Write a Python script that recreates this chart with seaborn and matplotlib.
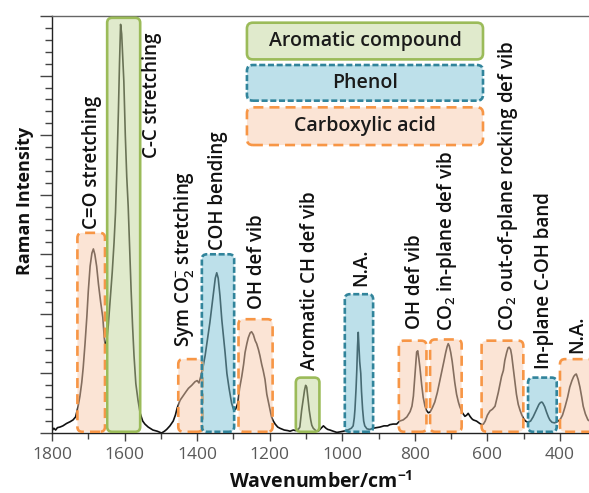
import matplotlib
matplotlib.use("Agg")
import matplotlib.pyplot as plt
import numpy as np
import pandas as pd
import seaborn as sns
from matplotlib.patches import FancyBboxPatch
from matplotlib.colors import to_rgba
from matplotlib.ticker import MultipleLocator

# Raman spectrum (wavenumber in cm-1, intensity in arbitrary units)
wavenumber = [
    1800, 1795, 1790, 1785, 1778, 1770, 1760, 1750, 1742, 1735, 1728, 1723, 1718,
    1714, 1709, 1704, 1700, 1695, 1690, 1686, 1682, 1677, 1672, 1666, 1660, 1656,
    1653, 1650, 1645, 1640, 1634, 1629, 1625, 1621, 1617, 1614, 1611, 1608, 1605,
    1602, 1598, 1594, 1590, 1586, 1582, 1578, 1574, 1569, 1563, 1557, 1550, 1544,
    1535, 1522, 1510, 1498, 1490, 1484, 1475, 1466, 1460, 1455, 1447, 1438, 1430,
    1424, 1415, 1406, 1400, 1395, 1390, 1384, 1378, 1372, 1365, 1360, 1356, 1350,
    1346, 1342, 1337, 1332, 1328, 1323, 1318, 1312, 1305, 1299, 1294, 1288, 1283,
    1277, 1272, 1268, 1263, 1259, 1254, 1250, 1245, 1240, 1236, 1231, 1227, 1222,
    1218, 1213, 1208, 1201, 1195, 1190, 1185, 1178, 1172, 1160, 1150, 1144, 1135,
    1128, 1120, 1117, 1112, 1108, 1104, 1101, 1098, 1096, 1093, 1091, 1087, 1084,
    1080, 1073, 1066, 1060, 1052, 1045, 1040, 1034, 1025, 1015, 1005, 997, 985,
    975, 970, 967, 965, 962, 960, 958, 956, 954, 952, 949, 947, 944, 941, 938,
    932, 924, 915, 905, 896, 885, 875, 869, 860, 850, 842, 832, 822, 813, 808,
    804, 800, 797, 795, 792, 789, 786, 784, 781, 777, 772, 768, 763, 758, 752,
    745, 738, 731, 725, 720, 715, 711, 708, 705, 701, 697, 693, 690, 685, 680,
    676, 670, 662, 657, 653, 648, 643, 639, 630, 621, 615, 611, 606, 600, 593,
    586, 579, 575, 570, 566, 561, 556, 552, 547, 543, 540, 536, 533, 529, 525,
    520, 515, 510, 505, 500, 495, 488, 481, 474, 468, 463, 458, 454, 450, 447,
    442, 437, 432, 428, 422, 415, 408, 400, 393, 386, 379, 373, 367, 362, 358,
    355, 350, 345, 340, 336, 330, 323, 318,
]
intensity = [
    0.04, 0.08, 0.05, 0.09, 0.10, 0.12, 0.16, 0.19, 0.22, 0.27, 0.45, 0.62, 0.85,
    1.10, 1.50, 1.95, 2.38, 2.80, 3.02, 3.09, 3.00, 2.80, 2.50, 2.20, 1.94, 1.60,
    1.45, 1.50, 1.80, 2.20, 2.70, 3.20, 3.70, 4.50, 5.40, 6.20, 6.86, 6.70, 6.30,
    5.90, 5.00, 4.30, 3.80, 3.10, 2.40, 1.80, 1.30, 0.83, 0.55, 0.33, 0.20, 0.15,
    0.10, 0.05, 0.03, 0.00, 0.03, 0.06, 0.12, 0.20, 0.30, 0.42, 0.55, 0.63, 0.70,
    0.75, 0.80, 0.86, 0.88, 0.84, 0.95, 1.10, 1.30, 1.55, 1.85, 2.10, 2.30, 2.60,
    2.69, 2.60, 2.30, 1.90, 1.65, 1.35, 1.00, 0.75, 0.50, 0.38, 0.40, 0.50, 0.75,
    0.95, 1.15, 1.35, 1.50, 1.60, 1.68, 1.70, 1.65, 1.55, 1.50, 1.40, 1.30, 1.15,
    1.05, 0.90, 0.65, 0.45, 0.27, 0.20, 0.15, 0.10, 0.08, 0.05, 0.04, 0.03, 0.05,
    0.04, 0.07, 0.10, 0.38, 0.55, 0.72, 0.80, 0.77, 0.66, 0.50, 0.38, 0.22, 0.13,
    0.08, 0.04, 0.03, 0.07, 0.12, 0.08, 0.06, 0.05, 0.03, 0.01, 0.02, 0.03, 0.05,
    0.08, 0.12, 0.25, 0.40, 0.75, 1.05, 1.45, 1.69, 1.45, 1.20, 1.00, 0.70, 0.40,
    0.20, 0.12, 0.07, 0.06, 0.08, 0.09, 0.10, 0.12, 0.12, 0.14, 0.15, 0.15, 0.20,
    0.22, 0.27, 0.36, 0.45, 0.62, 0.95, 1.20, 1.36, 1.38, 1.25, 1.10, 0.98, 0.80,
    0.60, 0.45, 0.38, 0.34, 0.35, 0.42, 0.52, 0.68, 0.88, 1.05, 1.20, 1.35, 1.45,
    1.50, 1.46, 1.35, 1.20, 1.00, 0.85, 0.65, 0.52, 0.44, 0.35, 0.28, 0.30, 0.33,
    0.28, 0.24, 0.22, 0.20, 0.16, 0.14, 0.15, 0.20, 0.30, 0.37, 0.40, 0.45, 0.55,
    0.68, 0.80, 0.95, 1.05, 1.22, 1.35, 1.43, 1.44, 1.40, 1.30, 1.10, 0.90, 0.65,
    0.48, 0.38, 0.30, 0.24, 0.20, 0.18, 0.20, 0.27, 0.35, 0.42, 0.48, 0.51, 0.52,
    0.50, 0.44, 0.35, 0.27, 0.22, 0.18, 0.17, 0.19, 0.22, 0.30, 0.44, 0.60, 0.77,
    0.88, 0.95, 0.98, 0.99, 0.90, 0.77, 0.60, 0.45, 0.32, 0.22, 0.20,
]

# Assigned bands: lower / upper wavenumber, box height, chemical group
band_lo = [1654, 1557, 1385, 1298, 1192, 1063, 915, 768, 671, 501, 409, 300]
band_hi = [1730, 1648, 1452, 1387, 1286, 1128, 993, 844, 758, 616, 488, 400]
band_top = [3.36, 6.97, 1.24, 3.0, 1.91, 0.93, 2.33, 1.55, 1.57, 1.55, 0.93, 1.24]
band_group = ["Carboxylic acid", "Aromatic compound", "Carboxylic acid", "Phenol",
              "Carboxylic acid", "Aromatic compound", "Phenol", "Carboxylic acid",
              "Carboxylic acid", "Carboxylic acid", "Phenol", "Carboxylic acid"]

# Vibrational mode annotations
mode_text = [
    "C=O stretching", "C-C stretching", r"Sym CO$_\mathregular{2}^\mathregular{-}$ stretching",
    "COH bending", "OH def vib", "Aromatic CH def vib", "N.A.", "OH def vib",
    r"CO$_\mathregular{2}$ in-plane def vib",
    r"CO$_\mathregular{2}$ out-of-plane rocking def vib",
    "In-plane C-OH band", "N.A.",
]
mode_x = [1691, 1524, 1433, 1343, 1235, 1089, 947, 800, 712, 543, 444, 353]
mode_y = [3.43, 6.72, 1.45, 3.08, 2.08, 1.05, 2.47, 1.75, 1.72, 1.72, 1.08, 1.35]
mode_va = ["bottom", "top", "bottom", "bottom", "bottom", "bottom", "bottom",
           "bottom", "bottom", "bottom", "bottom", "bottom"]

group_names = ["Aromatic compound", "Phenol", "Carboxylic acid"]
group_edge = {"Aromatic compound": "#9BBB59", "Phenol": "#31849B", "Carboxylic acid": "#F79646"}
group_face = {"Aromatic compound": "#C3D69B", "Phenol": "#7CC3D6", "Carboxylic acid": "#F8CBAD"}
group_dash = {"Aromatic compound": "solid", "Phenol": (0, (2.3, 1.0)), "Carboxylic acid": (0, (3.8, 2.3))}

sns.set_theme(style="ticks")
plt.rcParams["font.family"] = ["Open Sans", "DejaVu Sans"]
plt.rcParams["mathtext.fontset"] = "custom"
plt.rcParams["mathtext.rm"] = "Open Sans:semibold"
plt.rcParams["mathtext.bf"] = "Open Sans:bold"

fig = plt.figure(figsize=(5.89, 4.93), dpi=100)
ax = fig.add_axes([0.0883, 0.1217, 0.9117, 0.8458])

spec = pd.DataFrame({"wavenumber": wavenumber, "intensity": intensity})
sns.lineplot(data=spec, x="wavenumber", y="intensity", ax=ax, color="#111111",
             linewidth=1.2, sort=False, zorder=2)

ax.set_xlim(1800, 320)
ax.set_ylim(0, 7)

# Shaded band boxes
x_per_px = (1800 - 400) / 508.0
y_per_px = 7.0 / 417.0
for lo, hi, top, grp in zip(band_lo, band_hi, band_top, band_group):
    box = FancyBboxPatch((lo, 0.02), hi - lo, top - 0.02,
                         boxstyle=f"round,pad=0,rounding_size={5 * x_per_px}",
                         mutation_aspect=y_per_px / x_per_px,
                         facecolor=to_rgba(group_face[grp], 0.5),
                         edgecolor=group_edge[grp], linewidth=1.9,
                         linestyle=group_dash[grp], zorder=3)
    ax.add_patch(box)

for txt, x, y, va in zip(mode_text, mode_x, mode_y, mode_va):
    ax.text(x, y, txt, rotation=90, ha="center", va=va, fontsize=13.5,
            fontweight="semibold", color="#111111", zorder=5)

# Group key
key_top = [0.984, 0.8825, 0.781]
key_bottom = [0.896, 0.797, 0.6906]
key_left, key_right = 0.363, 0.8026
for name, t, b in zip(group_names, key_top, key_bottom):
    box = FancyBboxPatch((key_left, b), key_right - key_left, t - b,
                         boxstyle="round,pad=0,rounding_size=0.011",
                         mutation_aspect=537 / 417,
                         transform=ax.transAxes,
                         facecolor=to_rgba(group_face[name], 0.5),
                         edgecolor=group_edge[name], linewidth=1.9,
                         linestyle=group_dash[name], zorder=6)
    ax.add_patch(box)
    ax.text((key_left + key_right) / 2, (t + b) / 2, name, transform=ax.transAxes,
            ha="center", va="center", fontsize=14, fontweight="semibold",
            color="#1a1a1a", zorder=7)

# Axes styling
ax.xaxis.set_major_locator(MultipleLocator(200))
ax.xaxis.set_minor_locator(MultipleLocator(100))
ax.yaxis.set_major_locator(MultipleLocator(1))
ax.yaxis.set_minor_locator(MultipleLocator(0.2))
ax.set_yticklabels([])
ax.tick_params(axis="x", which="major", direction="out", length=6, width=1,
               color="#444444", labelsize=12.5, labelcolor="#595959", pad=4)
ax.tick_params(axis="x", which="minor", direction="out", length=4, width=1, color="#444444")
ax.tick_params(axis="y", which="major", direction="out", length=8.5, width=1, color="#444444")
ax.tick_params(axis="y", which="minor", direction="out", length=5, width=1, color="#444444")
ax.spines["right"].set_visible(False)
for s in ["left", "bottom"]:
    ax.spines[s].set_color("#222222")
    ax.spines[s].set_linewidth(1.0)
ax.spines["top"].set_color("#666666")
ax.spines["top"].set_linewidth(1.0)

ax.set_xlabel(r"Wavenumber/cm$^{\mathbf{-1}}$", fontsize=14, fontweight="bold", color="#111111")
ax.set_ylabel("Raman Intensity", fontsize=13, fontweight="bold", color="#111111")
ax.xaxis.set_label_coords(0.5, -0.09)
ax.yaxis.set_label_coords(-0.034, 0.556)

fig.savefig("out.png", dpi=100)
